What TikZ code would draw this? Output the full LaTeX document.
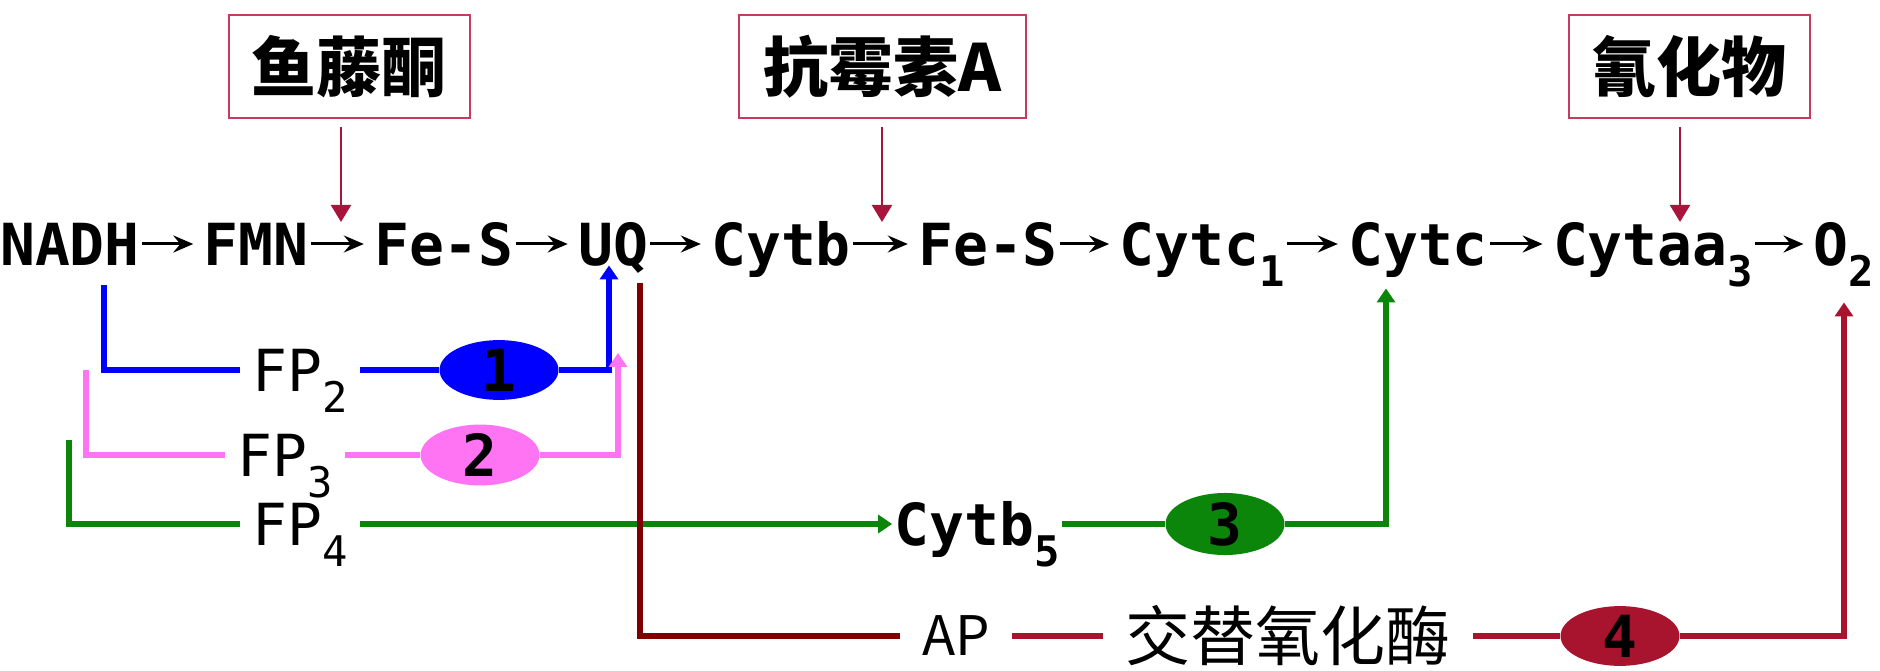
\documentclass[tikz,border=0pt]{standalone}
\usepackage{fontspec}
\setmainfont{DejaVu Sans Mono}
\newfontfamily\cjk{Noto Sans CJK SC}
\usepackage{tikz}
\usetikzlibrary{arrows.meta,shapes.geometric}
\definecolor{BoxRed}{HTML}{C83A5E}
\definecolor{HitRed}{HTML}{A8143C}
\definecolor{PathBlue}{HTML}{0000FF}
\definecolor{PathPink}{HTML}{FF74F2}
\definecolor{PathGreen}{HTML}{0B860B}
\definecolor{PathMaroon}{HTML}{800000}
\definecolor{PathCrimson}{HTML}{A8142E}
\newcommand{\lowidx}[1]{\raisebox{-12pt}{\fontsize{24}{24}\selectfont #1}}

\begin{document}
\begin{tikzpicture}[x=0.2mm, y=-0.2mm,
  carrier/.style={font=\fontsize{33}{36}\selectfont\bfseries,
                  text height=24pt, text depth=0pt,
                  inner xsep=0.4mm, inner ysep=0pt},
  enzyme/.style={font=\fontsize{33}{36}\selectfont,
                 text height=24pt, text depth=0pt,
                 inner xsep=2.4mm, inner ysep=0pt},
  altname/.style={font=\cjk\fontsize{31}{34}\selectfont, inner xsep=4.4mm},
  inhibitor/.style={draw=BoxRed, line width=0.4mm, fill=white,
                    minimum width=48.2mm, minimum height=20.6mm, inner sep=0pt,
                    font=\cjk\fontsize{37}{40}\selectfont\bfseries},
  site/.style={ellipse, minimum width=23.8mm, minimum height=10.6mm,
               inner sep=0pt, font=\fontsize{33}{36}\selectfont\bfseries},
  chain/.style={-{Stealth[length=4mm,width=3.4mm,inset=1.4mm]}, line width=0.6mm,
                shorten >=1.6mm},
  block/.style={-{Triangle[length=3.4mm,width=4mm]}, draw=HitRed,
                line width=0.45mm, shorten <=1.6mm},
  route/.style={line width=1.1mm},
  tip/.style={-{Triangle[length=2.8mm,width=3.6mm]}}
]
\useasboundingbox (0,0) rectangle (1880,671);

\node[carrier] (nadh) at (70,244) {NADH};
\node[carrier] (fmn) at (256,244) {FMN};
\node[carrier] (fes1) at (444,244) {Fe-S};
\node[carrier] (uq) at (613,244) {UQ};
\node[carrier] (cytb) at (781,244) {Cytb};
\node[carrier] (fes2) at (988,244) {Fe-S};
\node[carrier] (cytc1) at (1202,244) {Cytc\lowidx{1}};
\node[carrier] (cytc) at (1418,244) {Cytc};
\node[carrier] (cytaa3) at (1653,244) {Cytaa\lowidx{3}};
\node[carrier] (o2) at (1844,244) {O\lowidx{2}};
\foreach \a/\b in {nadh/fmn, fmn/fes1, fes1/uq, uq/cytb, cytb/fes2,
                   fes2/cytc1, cytc1/cytc, cytc/cytaa3, cytaa3/o2}
  \draw[chain] (\a) -- (\b);

\node[inhibitor] (rot) at (349,67) {鱼藤酮};
\node[inhibitor, minimum width=57.4mm] (anti) at (882,67) {抗霉素A};
\node[inhibitor] (cyan) at (1689,67) {氰化物};
\coordinate (rothit) at (341,222);
\coordinate (antihit) at (882,222);
\coordinate (cyanhit) at (1680,222);
\draw[block] (rothit |- rot.south) -- (rothit);
\draw[block] (antihit |- anti.south) -- (antihit);
\draw[block] (cyanhit |- cyan.south) -- (cyanhit);

\coordinate (blue0) at (104,285);
\node[enzyme] (fp2) at (300,370) {FP\lowidx{2}};
\node[site, fill=PathBlue] (s1) at (499,370) {1};
\draw[route, PathBlue] (blue0) |- (fp2);
\draw[route, PathBlue] (fp2) -- (s1);
\draw[route, PathBlue, tip] (s1) -| ([xshift=-0.8mm]uq.south);

\coordinate (pink0) at (86,370);
\coordinate (pinktip) at (618,353);
\node[enzyme] (fp3) at (285,455) {FP\lowidx{3}};
\node[site, fill=PathPink] (s2) at (480,455) {2};
\draw[route, PathPink] (pink0) |- (fp3);
\draw[route, PathPink] (fp3) -- (s2);
\draw[route, PathPink, tip] (s2) -| (pinktip);

\coordinate (green0) at (69,440);
\node[enzyme] (fp4) at (300,524) {FP\lowidx{4}};
\node[carrier] (cytb5) at (977,524) {Cytb\lowidx{5}};
\node[site, fill=PathGreen] (s3) at (1225,524) {3};
\draw[route, PathGreen] (green0) |- (fp4);
\draw[route, PathGreen, tip] (fp4) -- (cytb5);
\draw[route, PathGreen] (cytb5) -- (s3);
\draw[route, PathGreen, tip] (s3) -| ([xshift=-6.4mm,yshift=-4.6mm]cytc.south);

\node[altname, text height=22pt, text depth=0pt] (ap) at (956,636) {AP};
\node[altname, font=\cjk\fontsize{37}{40}\selectfont] (altox) at (1288,636) {交替氧化酶};
\node[site, fill=PathCrimson] (s4) at (1620,636) {4};
\draw[route, PathMaroon] ([xshift=5.4mm,yshift=-3.6mm]uq.south) |- (ap);
\draw[route, PathCrimson] (ap) -- (altox);
\draw[route, PathCrimson] (altox) -- (s4);
\draw[route, PathCrimson, tip] (s4) -| ([yshift=-7.4mm]o2.south);
\end{tikzpicture}
\end{document}
